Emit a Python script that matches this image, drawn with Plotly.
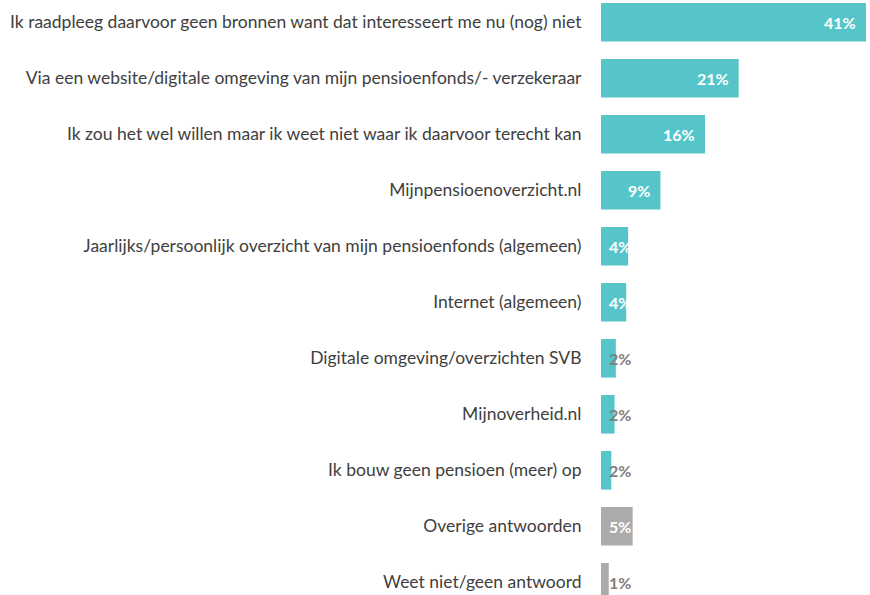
import plotly.graph_objects as go

categories = [
    "Ik raadpleeg daarvoor geen bronnen want dat interesseert me nu (nog) niet",
    "Via een website/digitale omgeving van mijn pensioenfonds/- verzekeraar",
    "Ik zou het wel willen maar ik weet niet waar ik daarvoor terecht kan",
    "Mijnpensioenoverzicht.nl",
    "Jaarlijks/persoonlijk overzicht van mijn pensioenfonds (algemeen)",
    "Internet (algemeen)",
    "Digitale omgeving/overzichten SVB",
    "Mijnoverheid.nl",
    "Ik bouw geen pensioen (meer) op",
    "Overige antwoorden",
    "Weet niet/geen antwoord",
]
values = [41.0, 21.3, 16.1, 9.2, 4.2, 3.9, 2.3, 2.1, 1.6, 4.9, 1.2]
groups = ["main"] * 9 + ["other"] * 2

TEAL = "#56C5C9"
GREY = "#ADAAAA"
bar_colors = [TEAL if g == "main" else GREY for g in groups]

fig = go.Figure()
fig.add_trace(go.Bar(
    y=list(range(len(categories))),
    x=values,
    orientation="h",
    marker=dict(color=bar_colors, line=dict(width=0)),
    width=0.69,
    hoverinfo="skip",
))

for i, v in enumerate(values):
    label = f"{round(v)}%"
    big = v >= 3.5
    col = "white" if big else "#7F7F7F"
    if v >= 8:
        fig.add_annotation(x=v, y=i, text=label, showarrow=False, xanchor="right",
                           xshift=-8, font=dict(family="Lato", size=16, color=col, weight="bold"))
    else:
        fig.add_annotation(x=0, y=i, text=label, showarrow=False, xanchor="left",
                           xshift=6, font=dict(family="Lato", size=16, color=col, weight="bold"))

fig.update_layout(
    width=870, height=595,
    margin=dict(l=601, r=0, t=0, b=0),
    paper_bgcolor="white", plot_bgcolor="white",
    showlegend=False,
    font=dict(family="Lato", size=17.5, color="#404040"),
    xaxis=dict(range=[0, 269 / 6.463], visible=False, fixedrange=True),
    yaxis=dict(
        range=[10.227, -0.398],
        tickmode="array",
        tickvals=list(range(len(categories))),
        ticktext=categories,
        showgrid=False, zeroline=False, showline=False,
        ticks="outside", ticklen=0, ticklabelstandoff=15,
        automargin=False, fixedrange=True,
        tickfont=dict(family="Lato", size=17.5, color="#404040"),
    ),
)

fig.write_html("out.html",
               config={"displayModeBar": False},
               post_script="document.body.style.margin='0';document.body.style.overflow='hidden';")
